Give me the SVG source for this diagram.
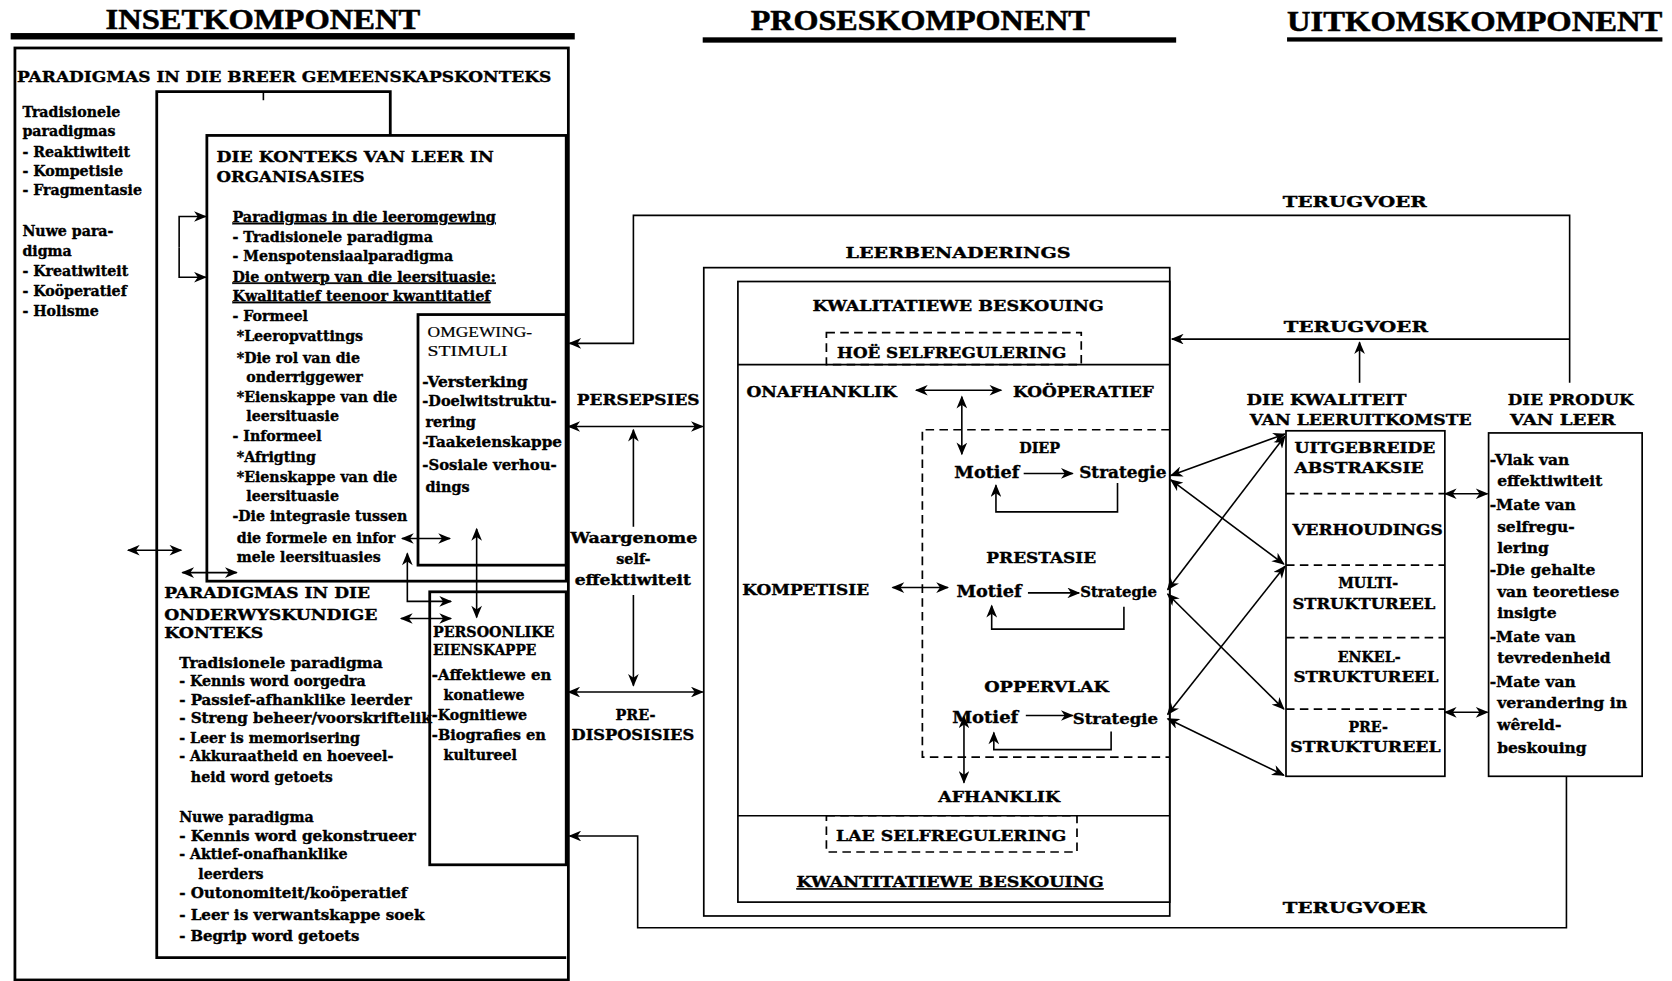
<svg xmlns="http://www.w3.org/2000/svg" width="1672" height="981" viewBox="0 0 1672 981">
<defs>
<marker id="ah" viewBox="0 0 12 10" refX="11" refY="5" markerWidth="13" markerHeight="10" markerUnits="userSpaceOnUse" orient="auto-start-reverse"><path d="M0,0 L12,5 L0,10 L3.5,5 z" fill="#000"/></marker>
<style>
text{font-family:"DejaVu Serif","Liberation Serif",serif;font-weight:bold;font-size:13.3px;fill:#000;stroke:#000;stroke-width:0.35}
.hd{font-family:"Liberation Serif","Times New Roman",serif;font-size:27px;stroke-width:0.5}
.h14{font-size:14.5px}
.cp{font-size:13.5px}
.mo{font-size:16px}
.pr{font-size:14.5px}
.reg{font-family:"Liberation Serif","Times New Roman",serif;font-weight:normal;font-size:14px;stroke-width:0.2}
.m{text-anchor:middle}
.u{text-decoration:underline}
.b{fill:none;stroke:#000;stroke-width:1.6}
.bt{fill:none;stroke:#000;stroke-width:2.6}
.d{stroke-dasharray:8 5}
.c{fill:none;stroke:#000;stroke-width:1.5}
.e{marker-end:url(#ah)}
.s{marker-start:url(#ah)}
</style>
</defs>
<rect width="1672" height="981" fill="#fff"/>
<g transform="scale(1.06633)">

<g id="headers">
<text class="hd" x="99" y="27" textLength="295" lengthAdjust="spacingAndGlyphs">INSETKOMPONENT</text>
<rect x="10" y="31" width="529" height="6"/>
<text class="hd" x="704" y="28" textLength="318" lengthAdjust="spacingAndGlyphs">PROSESKOMPONENT</text>
<rect x="659" y="35" width="444" height="5"/>
<text class="hd" x="1207" y="29" textLength="352" lengthAdjust="spacingAndGlyphs">UITKOMSKOMPONENT</text>
<rect x="1207" y="35" width="352" height="4"/>
</g>

<g id="inset-breer">
<rect class="bt" x="14" y="45" width="519" height="874"/>
<text class="h14" x="16" y="77" textLength="501" lengthAdjust="spacingAndGlyphs">PARADIGMAS IN DIE BREER GEMEENSKAPSKONTEKS</text>
<text x="21" y="110">Tradisionele</text>
<text x="21" y="128">paradigmas</text>
<text x="21" y="147">- Reaktiwiteit</text>
<text x="21" y="165">- Kompetisie</text>
<text x="21" y="183">- Fragmentasie</text>
<text x="21" y="221">Nuwe para-</text>
<text x="21" y="240">digma</text>
<text x="21" y="259">- Kreatiwiteit</text>
<text x="21" y="278">- Koöperatief</text>
<text x="21" y="296">- Holisme</text>
</g>

<g id="inset-frame">
<path class="bt" d="M366,127 V86 H147 V898 H531" stroke-width="2.2"/>
<path class="c" d="M247,87 V94"/>
</g>

<g id="konteks">
<rect class="bt" x="194" y="127" width="337" height="418"/>
<text class="h14" x="203" y="152" textLength="260" lengthAdjust="spacingAndGlyphs">DIE KONTEKS VAN LEER  IN</text>
<text class="h14" x="203" y="171" textLength="139" lengthAdjust="spacingAndGlyphs">ORGANISASIES</text>
<text class="u" x="218" y="208" textLength="247" lengthAdjust="spacingAndGlyphs">Paradigmas in die leeromgewing</text>
<text x="218" y="227" textLength="188" lengthAdjust="spacingAndGlyphs">- Tradisionele paradigma</text>
<text x="218" y="245" textLength="207" lengthAdjust="spacingAndGlyphs">- Menspotensiaalparadigma</text>
<text class="u" x="218" y="264" textLength="247" lengthAdjust="spacingAndGlyphs">Die ontwerp van die leersituasie:</text>
<text class="u" x="218" y="282" textLength="242" lengthAdjust="spacingAndGlyphs">Kwalitatief teenoor kwantitatief</text>
<text x="218" y="301">- Formeel</text>
<text x="222" y="320">*Leeropvattings</text>
<text x="222" y="340">*Die rol van die</text>
<text x="231" y="358">onderriggewer</text>
<text x="222" y="377">*Eienskappe van die</text>
<text x="231" y="395">leersituasie</text>
<text x="218" y="414">- Informeel</text>
<text x="222" y="433">*Afrigting</text>
<text x="222" y="452">*Eienskappe van die</text>
<text x="231" y="470">leersituasie</text>
<text x="218" y="489">-Die integrasie tussen</text>
<text x="222" y="509">die formele en infor</text>
<text x="222" y="527">mele leersituasies</text>
</g>

<g id="omgewing">
<rect class="bt" x="392" y="295" width="139" height="235" fill="#fff"/>
<text class="reg" x="401" y="316" textLength="98" lengthAdjust="spacingAndGlyphs">OMGEWING-</text>
<text class="reg" x="401" y="334" textLength="75" lengthAdjust="spacingAndGlyphs">STIMULI</text>
<text class="cp" x="396" y="363" textLength="99" lengthAdjust="spacingAndGlyphs">-Versterking</text>
<text class="cp" x="396" y="381" textLength="126" lengthAdjust="spacingAndGlyphs">-Doelwitstruktu-</text>
<text class="cp" x="399" y="400">rering</text>
<text class="cp" x="396" y="419" textLength="131" lengthAdjust="spacingAndGlyphs">-Taakeienskappe</text>
<text class="cp" x="396" y="441" textLength="126" lengthAdjust="spacingAndGlyphs">-Sosiale verhou-</text>
<text class="cp" x="399" y="461">dings</text>
</g>

<g id="onderwys">
<text class="h14" x="154" y="561" textLength="193" lengthAdjust="spacingAndGlyphs">PARADIGMAS IN DIE</text>
<text class="h14" x="154" y="581" textLength="200" lengthAdjust="spacingAndGlyphs">ONDERWYSKUNDIGE</text>
<text class="h14" x="154" y="598" textLength="93" lengthAdjust="spacingAndGlyphs">KONTEKS</text>
<text x="168" y="626" textLength="191" lengthAdjust="spacingAndGlyphs">Tradisionele paradigma</text>
<text x="168" y="643">- Kennis word oorgedra</text>
<text x="168" y="661" textLength="218" lengthAdjust="spacingAndGlyphs">- Passief-afhanklike leerder</text>
<text x="168" y="678" textLength="237" lengthAdjust="spacingAndGlyphs">- Streng beheer/voorskriftelik</text>
<text x="168" y="697">- Leer is memorisering</text>
<text x="168" y="714">- Akkuraatheid en hoeveel-</text>
<text x="179" y="733">heid word getoets</text>
<text x="168" y="771">Nuwe paradigma</text>
<text x="168" y="789" textLength="222" lengthAdjust="spacingAndGlyphs">- Kennis word gekonstrueer</text>
<text x="168" y="806">- Aktief-onafhanklike</text>
<text x="186" y="824">leerders</text>
<text x="168" y="842" textLength="214" lengthAdjust="spacingAndGlyphs">- Outonomiteit/koöperatief</text>
<text x="168" y="863" textLength="230" lengthAdjust="spacingAndGlyphs">- Leer is verwantskappe soek</text>
<text x="168" y="882" textLength="169" lengthAdjust="spacingAndGlyphs">- Begrip word getoets</text>
</g>

<g id="persoonlike">
<rect class="bt" x="403" y="555" width="128" height="256" stroke-width="2.2"/>
<text x="406" y="597" font-size="12" textLength="114" lengthAdjust="spacingAndGlyphs">PERSOONLIKE</text>
<text x="406" y="614" font-size="12" textLength="97" lengthAdjust="spacingAndGlyphs">EIENSKAPPE</text>
<text x="405" y="638" textLength="112" lengthAdjust="spacingAndGlyphs">-Affektiewe en</text>
<text x="416" y="656">konatiewe</text>
<text x="405" y="675">-Kognitiewe</text>
<text x="405" y="694" textLength="107" lengthAdjust="spacingAndGlyphs">-Biografies en</text>
<text x="416" y="713">kultureel</text>
</g>

<g id="proses-labels">
<text class="cp" x="541" y="380" textLength="115" lengthAdjust="spacingAndGlyphs">PERSEPSIES</text>
<text class="cp" x="535" y="509" textLength="119" lengthAdjust="spacingAndGlyphs">Waargenome</text>
<text class="cp m" x="594" y="529">self-</text>
<text class="cp" x="539" y="549" textLength="109" lengthAdjust="spacingAndGlyphs">effektiwiteit</text>
<text class="cp m" x="596" y="675">PRE-</text>
<text class="cp" x="536" y="694" textLength="115" lengthAdjust="spacingAndGlyphs">DISPOSISIES</text>
</g>

<g id="leerbenaderings">
<text class="h14" x="793" y="242" textLength="211" lengthAdjust="spacingAndGlyphs">LEERBENADERINGS</text>
<rect class="b" x="660" y="251" width="437" height="608" stroke-width="2"/>
<rect class="b" x="692" y="264" width="405" height="582"/>
<path class="b" d="M692,342 H1097 M692,765 H1097"/>
<text class="cp" x="762" y="292" textLength="273" lengthAdjust="spacingAndGlyphs">KWALITATIEWE BESKOUING</text>
<rect class="b d" x="775" y="312" width="239" height="30" stroke-width="2.2"/>
<text class="cp" x="785" y="336" textLength="215" lengthAdjust="spacingAndGlyphs">HOË SELFREGULERING</text>
<text class="cp" x="700" y="372" textLength="141" lengthAdjust="spacingAndGlyphs">ONAFHANKLIK</text>
<text class="cp" x="950" y="372" textLength="132" lengthAdjust="spacingAndGlyphs">KOÖPERATIEF</text>
<path class="b d" d="M1097,403 H865 V710 H1097"/>
<text class="cp m" x="975" y="425">DIEP</text>
<text class="mo" x="895" y="448" textLength="61" lengthAdjust="spacingAndGlyphs">Motief</text>
<text class="mo" x="1012" y="448" textLength="82" lengthAdjust="spacingAndGlyphs">Strategie</text>
<text class="cp" x="925" y="528" textLength="103" lengthAdjust="spacingAndGlyphs">PRESTASIE</text>
<text class="cp" x="696" y="558" textLength="119" lengthAdjust="spacingAndGlyphs">KOMPETISIE</text>
<text class="mo" x="897" y="560" textLength="61" lengthAdjust="spacingAndGlyphs">Motief</text>
<text class="pr" x="1013" y="560" textLength="72" lengthAdjust="spacingAndGlyphs">Strategie</text>
<text class="cp" x="923" y="649" textLength="117" lengthAdjust="spacingAndGlyphs">OPPERVLAK</text>
<text class="mo" x="893" y="678" textLength="62" lengthAdjust="spacingAndGlyphs">Motief</text>
<text class="pr" x="1006" y="679" textLength="80" lengthAdjust="spacingAndGlyphs">Strategie</text>
<text class="cp" x="880" y="752" textLength="114" lengthAdjust="spacingAndGlyphs">AFHANKLIK</text>
<rect class="b d" x="775" y="765" width="235" height="34" stroke-width="2.2"/>
<text class="cp" x="784" y="789" textLength="216" lengthAdjust="spacingAndGlyphs">LAE SELFREGULERING</text>
<text class="cp u" x="747" y="832" textLength="288" lengthAdjust="spacingAndGlyphs">KWANTITATIEWE BESKOUING</text>
</g>

<g id="uitkoms-kwaliteit">
<text class="cp" x="1169" y="380" textLength="150" lengthAdjust="spacingAndGlyphs">DIE KWALITEIT</text>
<text class="cp" x="1172" y="399" textLength="208" lengthAdjust="spacingAndGlyphs">VAN LEERUITKOMSTE</text>
<rect class="b" x="1206" y="404" width="149" height="324"/>
<path class="b d" d="M1206,463 H1355 M1206,530 H1355 M1206,598 H1355 M1206,665 H1355"/>
<text x="1214" y="425" textLength="132" lengthAdjust="spacingAndGlyphs">UITGEBREIDE</text>
<text x="1214" y="444" textLength="121" lengthAdjust="spacingAndGlyphs">ABSTRAKSIE</text>
<text x="1212" y="502" textLength="141" lengthAdjust="spacingAndGlyphs">VERHOUDINGS</text>
<text class="m" x="1283" y="551">MULTI-</text>
<text x="1212" y="571" textLength="134" lengthAdjust="spacingAndGlyphs">STRUKTUREEL</text>
<text class="m" x="1284" y="621">ENKEL-</text>
<text x="1213" y="640" textLength="136" lengthAdjust="spacingAndGlyphs">STRUKTUREEL</text>
<text class="m" x="1283" y="686">PRE-</text>
<text x="1210" y="705" textLength="141" lengthAdjust="spacingAndGlyphs">STRUKTUREEL</text>
</g>

<g id="uitkoms-produk">
<text class="cp" x="1414" y="380" textLength="118" lengthAdjust="spacingAndGlyphs">DIE PRODUK</text>
<text class="cp" x="1416" y="399" textLength="99" lengthAdjust="spacingAndGlyphs">VAN  LEER</text>
<rect class="b" x="1396" y="406" width="144" height="322"/>
<text class="pr" x="1397" y="436">-Vlak van</text>
<text class="pr" x="1404" y="456">effektiwiteit</text>
<text class="pr" x="1397" y="478">-Mate van</text>
<text class="pr" x="1404" y="499">selfregu-</text>
<text class="pr" x="1404" y="519">lering</text>
<text class="pr" x="1397" y="539">-Die gehalte</text>
<text class="pr" x="1404" y="560">van teoretiese</text>
<text class="pr" x="1404" y="580">insigte</text>
<text class="pr" x="1397" y="602">-Mate van</text>
<text class="pr" x="1404" y="622">tevredenheid</text>
<text class="pr" x="1397" y="644">-Mate van</text>
<text class="pr" x="1404" y="664" textLength="122" lengthAdjust="spacingAndGlyphs">verandering in</text>
<text class="pr" x="1404" y="685">wêreld-</text>
<text class="pr" x="1404" y="706">beskouing</text>
</g>

<g id="feedback-labels">
<text class="cp" x="1203" y="194" textLength="135" lengthAdjust="spacingAndGlyphs">TERUGVOER</text>
<text class="cp" x="1204" y="311" textLength="135" lengthAdjust="spacingAndGlyphs">TERUGVOER</text>
<text class="cp" x="1203" y="856" textLength="135" lengthAdjust="spacingAndGlyphs">TERUGVOER</text>
</g>

<g id="connectors">
<path class="c e" d="M168,232 V203 H193"/>
<path class="c e" d="M168,232 V260 H193"/>
<path class="c s e" d="M120,516 H170"/>
<path class="c s e" d="M171,537 H222"/>
<path class="c s e" d="M377,505 H422"/>
<path class="c s e" d="M447,496 V579"/>
<path class="c s e" d="M382,519 V564 H423"/>
<path class="c s e" d="M376,580 H423"/>
<path class="c s e" d="M533,400 H659"/>
<path class="c e" d="M594,494 V403"/>
<path class="c e" d="M594,558 V643"/>
<path class="c s e" d="M533,649 H659"/>
<path class="c e" d="M1472,359 V202 H594 V322 H534"/>
<path class="c e" d="M1472,318 H1099"/>
<path class="c e" d="M1275,359 V321"/>
<path class="c e" d="M1469,728 V870 H598 V784 H534"/>
<path class="c s e" d="M859,366 H939"/>
<path class="c s e" d="M902,372 V426"/>
<path class="c e" d="M960,444 H1006"/>
<path class="c e" d="M1048,453 V480 H934 V455"/>
<path class="c s e" d="M837,551 H889"/>
<path class="c e" d="M964,556 H1012"/>
<path class="c e" d="M1054,569 V590 H930 V568"/>
<path class="c e" d="M962,671 H1006"/>
<path class="c e" d="M1042,686 V703 H932 V687"/>
<path class="c s e" d="M904,672 V734"/>
<path class="c s e" d="M1098,446 L1205,407"/>
<path class="c s e" d="M1098,450 L1204,529"/>
<path class="c s e" d="M1095,553 L1205,409"/>
<path class="c s e" d="M1095,557 L1204,665"/>
<path class="c s e" d="M1095,670 L1205,531"/>
<path class="c s e" d="M1095,674 L1204,727"/>
<path class="c s e" d="M1355,463 H1395"/>
<path class="c s e" d="M1355,668 H1395"/>
</g>
</g>
</svg>
